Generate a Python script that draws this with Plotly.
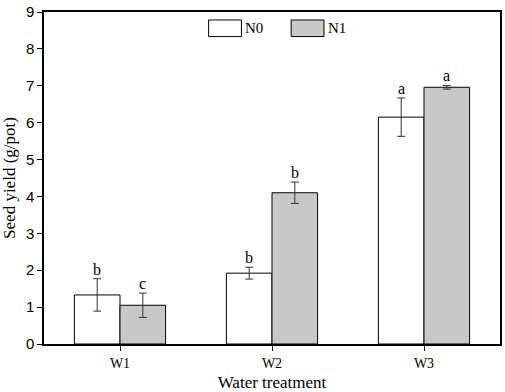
import plotly.graph_objects as go

categories = ["W1", "W2", "W3"]
n0_values = [1.33, 1.92, 6.15]
n0_errors = [0.44, 0.16, 0.52]
n1_values = [1.05, 4.10, 6.96]
n1_errors = [0.33, 0.29, 0.05]
n0_letters = ["b", "b", "a"]
n1_letters = ["c", "b", "a"]
y_ticks = list(range(0, 10))

xpos = list(range(len(categories)))
serif = "Liberation Serif, Times New Roman, serif"
sans = "Liberation Sans, Arial, sans-serif"

fig = go.Figure()
fig.add_trace(go.Bar(
    x=xpos, y=n0_values, name="N0",
    marker=dict(color="white", line=dict(color="black", width=1)),
    error_y=dict(type="data", array=n0_errors, color="#333333", thickness=1, width=4),
))
fig.add_trace(go.Bar(
    x=xpos, y=n1_values, name="N1",
    marker=dict(color="#c8c8c8", line=dict(color="black", width=1)),
    error_y=dict(type="data", array=n1_errors, color="#333333", thickness=1, width=4),
))

bar_w = 0.3
for i in xpos:
    fig.add_annotation(x=i - bar_w / 2, y=n0_values[i] + n0_errors[i], text=n0_letters[i],
                       showarrow=False, yanchor="bottom", yshift=-1,
                       font=dict(family=serif, size=16, color="black"))
    fig.add_annotation(x=i + bar_w / 2, y=n1_values[i] + n1_errors[i], text=n1_letters[i],
                       showarrow=False, yanchor="bottom", yshift=-1,
                       font=dict(family=serif, size=16, color="black"))

# custom legend (boxes + labels)
legend_items = [("N0", "white"), ("N1", "#c8c8c8")]
lx0 = [0.361, 0.542]
for (name, col), x0 in zip(legend_items, lx0):
    fig.add_shape(type="rect", xref="paper", yref="paper",
                  x0=x0, x1=x0 + 0.072, y0=0.926, y1=0.976,
                  line=dict(color="black", width=1), fillcolor=col)
    fig.add_annotation(xref="paper", yref="paper", x=x0 + 0.076, y=0.951,
                       text=name, showarrow=False, xanchor="left", yanchor="middle",
                       font=dict(family=serif, size=15, color="black"))

fig.update_layout(
    width=505, height=392,
    margin=dict(l=44, r=3, t=8, b=48),
    paper_bgcolor="white", plot_bgcolor="white",
    barmode="group", bargap=0.4, bargroupgap=0,
    showlegend=False,
    xaxis=dict(
        range=[-0.5, 2.5], tickvals=xpos, ticktext=categories,
        showline=True, linecolor="black", linewidth=1.5, mirror=True,
        ticks="outside", ticklen=5, tickcolor="black",
        tickfont=dict(family=serif, size=14, color="black"),
        showgrid=False, zeroline=False,
        title=dict(text="Water treatment", font=dict(family=serif, size=17, color="black"), standoff=7),
    ),
    yaxis=dict(
        range=[0, 9], tickvals=y_ticks, ticklabeloverflow="allow",
        showline=True, linecolor="black", linewidth=1.5, mirror=True,
        ticks="outside", ticklen=5, tickcolor="black",
        tickfont=dict(family=sans, size=15, color="black"),
        showgrid=False, zeroline=False,
        title=dict(text="Seed yield (g/pot)", font=dict(family=serif, size=17, color="black"), standoff=7),
    ),
)

fig.write_html("out.html", config={"displayModeBar": False},
               post_script="document.body.style.margin='0';document.body.style.padding='0';")
